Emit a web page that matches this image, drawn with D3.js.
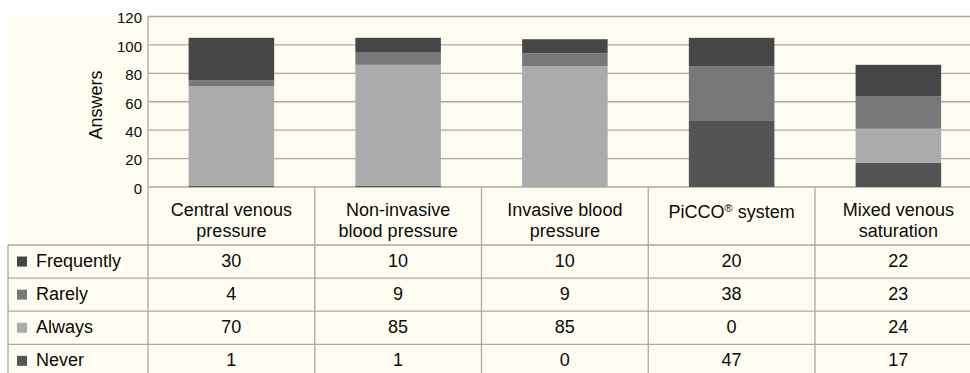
<!DOCTYPE html>
<html>
<head>
<meta charset="utf-8">
<script src="https://cdn.jsdelivr.net/npm/d3@7"></script>
<style>
  html, body { margin: 0; padding: 0; background: #ffffff; }
  svg { display: block; font-family: "Liberation Sans", Arial, Helvetica, sans-serif; }
</style>
</head>
<body>
<svg id="chart" width="970" height="373"></svg>
<script>
// Monitoring methods and how often respondents use them
const categories = [
  ["Central venous", "pressure"],
  ["Non-invasive", "blood pressure"],
  ["Invasive blood", "pressure"],
  ["PiCCO® system"],
  ["Mixed venous", "saturation"]
];
// Series listed top row first, as in the data table
const seriesNames = ["Frequently", "Rarely", "Always", "Never"];
const frequently = [30, 10, 10, 20, 22];
const rarely     = [4, 9, 9, 38, 23];
const always     = [70, 85, 85, 0, 24];
const never      = [1, 1, 0, 47, 17];
const yTicks = [0, 20, 40, 60, 80, 100, 120];
const seriesColors = ["#464646", "#787878", "#ababab", "#545454"];

const seriesValues = [frequently, rarely, always, never];
const rows = categories.map((c, i) => {
  const r = { key: i };
  seriesNames.forEach((s, j) => { r[s] = seriesValues[j][i]; });
  return r;
});

const svg = d3.select("#chart");
const W = 970;
const plotLeft = 148, plotRight = 981.75, plotTop = 16.5, plotBottom = 187;
const tableLeft = 8;
const headerBottom = 245;
const rowH = 33.1;
const ink = "#0a0a0a";

// cream panel
svg.append("rect").attr("x", tableLeft).attr("y", 15).attr("width", W - tableLeft).attr("height", 373 - 15)
  .attr("fill", "#fffdf1");

const x = d3.scaleBand().domain(d3.range(categories.length)).range([plotLeft, plotRight])
  .paddingInner(0.487).paddingOuter(0.2435);
const y = d3.scaleLinear().domain([0, 120]).range([plotBottom, plotTop]);

// gridlines
svg.append("g").selectAll("line").data(yTicks).join("line")
  .attr("x1", plotLeft).attr("x2", W)
  .attr("y1", d => y(d)).attr("y2", d => y(d))
  .attr("stroke", "#a9a9a9").attr("stroke-width", 1.3);

// y axis labels
const yAxis = d3.axisLeft(y).tickValues(yTicks).tickSize(0).tickPadding(6);
const ya = svg.append("g").attr("transform", `translate(${plotLeft},0)`).call(yAxis);
ya.select(".domain").remove();
ya.selectAll("text").attr("font-size", 15).attr("fill", ink)
  .attr("font-family", "\"Liberation Sans\", Arial, sans-serif").attr("dy", "0.42em");

svg.append("text").attr("transform", "translate(102,105) rotate(-90)")
  .attr("text-anchor", "middle").attr("font-size", 18).attr("fill", ink).text("Answers");

// stacked bars: Never at the bottom, Frequently on top
const stackOrder = ["Never", "Always", "Rarely", "Frequently"];
const stacked = d3.stack().keys(stackOrder)(rows);
const colorOf = d3.scaleOrdinal().domain(seriesNames).range(seriesColors);

svg.append("g").selectAll("g").data(stacked).join("g")
  .attr("fill", d => colorOf(d.key))
  .selectAll("rect").data(d => d).join("rect")
  .attr("x", d => x(d.data.key))
  .attr("width", x.bandwidth())
  .attr("y", d => y(d[1]))
  .attr("height", d => y(d[0]) - y(d[1]));

// data table lines
const tableBottom = headerBottom + rowH * seriesNames.length;
const g = svg.append("g").attr("stroke", "#a9a9a9").attr("stroke-width", 1.3);
d3.range(seriesNames.length).forEach(i => {
  const yy = headerBottom + rowH * i;
  g.append("line").attr("x1", tableLeft).attr("x2", W).attr("y1", yy).attr("y2", yy);
});
g.append("line").attr("x1", tableLeft).attr("x2", tableLeft).attr("y1", headerBottom).attr("y2", tableBottom);
g.append("line").attr("x1", plotLeft).attr("x2", plotLeft).attr("y1", plotTop).attr("y2", tableBottom);
d3.range(1, categories.length + 1).forEach(i => {
  const xx = plotLeft + x.step() * i;
  g.append("line").attr("x1", xx).attr("x2", xx).attr("y1", plotBottom).attr("y2", tableBottom);
});

// category header labels
const header = svg.append("g").attr("font-size", 18).attr("fill", ink).attr("text-anchor", "middle");
categories.forEach((lines, i) => {
  const cx = x(i) + x.bandwidth() / 2;
  const t = header.append("text").attr("x", cx);
  if (lines.length === 1) {
    t.attr("y", 218);
    const parts = lines[0].split("®");
    t.append("tspan").text(parts[0]);
    t.append("tspan").attr("font-size", 11).attr("dy", -6).text("®");
    t.append("tspan").attr("dy", 6).text(parts[1]);
  } else {
    lines.forEach((ln, k) => {
      t.append("tspan").attr("x", cx).attr("y", 216 + k * 21).text(ln);
    });
  }
});

// series rows: legend key, name and values
const body = svg.append("g").attr("font-size", 18).attr("fill", ink);
seriesNames.forEach((s, j) => {
  const cy = headerBottom + rowH * j + rowH / 2;
  body.append("rect").attr("x", 17).attr("y", cy - 5).attr("width", 10).attr("height", 10)
    .attr("fill", seriesColors[j]);
  body.append("text").attr("x", 36).attr("y", cy + 5.5).text(s);
  seriesValues[j].forEach((v, i) => {
    body.append("text").attr("x", x(i) + x.bandwidth() / 2).attr("y", cy + 5.5)
      .attr("text-anchor", "middle").text(v);
  });
});
</script>
</body>
</html>
